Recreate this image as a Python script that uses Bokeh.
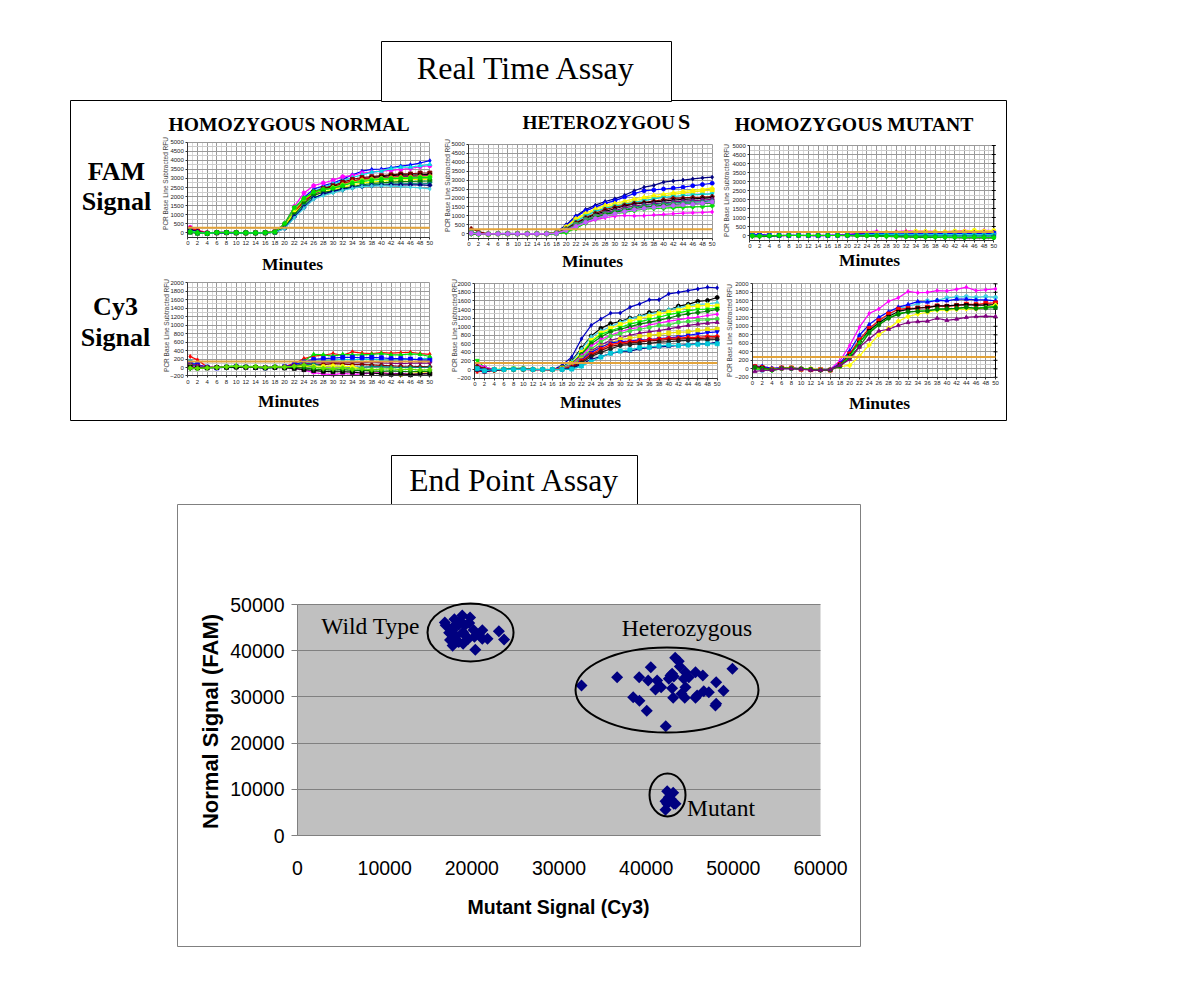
from bokeh.plotting import figure
from bokeh.embed import file_html
from bokeh.resources import INLINE
from bokeh.core.properties import value
from bokeh.models import Range1d, LinearAxis, FixedTicker, Grid

minutes = [0.5, 2, 4, 6, 8, 10, 12, 14, 16, 18, 20, 22, 24, 26, 28, 30, 32, 34, 36, 38, 40, 42, 44, 46, 48, 50]

fam_normal = [
    [150, 60, -20, 10, 20, 10, -10, 0, 20, 60, 420, 1250, 1950, 2400, 2600, 2750, 2950, 3200, 3400, 3500, 3520, 3600, 3680, 3750, 3850, 3980],
    [300, 150, 0, 20, 20, 5, 0, -10, 10, 70, 500, 1450, 2200, 2600, 2750, 2900, 3100, 3150, 3300, 3350, 3400, 3450, 3500, 3550, 3650, 3700],
    [100, 40, -30, 10, 0, 10, 0, 0, 10, 40, 350, 1100, 1800, 2300, 2500, 2700, 2850, 3050, 3200, 3350, 3400, 3550, 3620, 3620, 3700, 3780],
    [200, 80, -20, 0, 10, 0, -10, 0, 0, 50, 400, 1150, 1800, 2250, 2450, 2600, 2800, 2950, 3050, 3100, 3150, 3200, 3250, 3250, 3300, 3300],
    [80, 10, -40, 0, 10, 10, 0, -10, 0, 30, 300, 1050, 1700, 2150, 2400, 2550, 2700, 2850, 2950, 3050, 3100, 3150, 3200, 3180, 3200, 3220],
    [250, 140, -10, 10, 0, 0, 0, -10, 10, 60, 380, 1150, 1750, 2200, 2400, 2500, 2700, 2850, 2950, 3000, 3020, 3080, 3100, 3120, 3130, 3150],
    [40, -20, -30, 20, 20, 10, -10, 0, 10, 40, 350, 1050, 1650, 2100, 2350, 2500, 2650, 2800, 2900, 2980, 3020, 3050, 3080, 3100, 3120, 3150],
    [60, 0, -20, 10, 10, 0, -5, 0, 5, 40, 350, 1250, 1850, 2200, 2350, 2500, 2650, 2800, 2900, 2950, 3000, 3020, 3050, 3060, 3080, 3100],
    [120, 20, -30, 0, 5, 5, 0, 0, 5, 40, 380, 1100, 1600, 2050, 2250, 2400, 2500, 2650, 2750, 2800, 2850, 2900, 2920, 2930, 2950, 2960],
    [30, -30, -40, 10, 10, 0, 0, -10, 0, 30, 300, 1000, 1600, 2050, 2250, 2300, 2450, 2550, 2650, 2720, 2750, 2800, 2820, 2830, 2850, 2860],
    [50, -10, -20, 10, 0, 5, 0, 0, 5, 20, 260, 900, 1500, 1950, 2100, 2250, 2350, 2500, 2600, 2650, 2680, 2700, 2700, 2720, 2700, 2720],
    [180, 70, -10, 0, 10, 0, -5, -10, 0, 30, 250, 880, 1400, 1900, 2150, 2300, 2400, 2500, 2550, 2600, 2620, 2650, 2640, 2650, 2640, 2620],
    [90, 20, -30, 5, 5, 0, 0, 0, 0, 20, 230, 820, 1350, 1850, 2050, 2200, 2350, 2450, 2550, 2580, 2600, 2580, 2550, 2520, 2480, 2420],
    [70, 10, -30, 20, 20, 10, 0, 0, 10, 50, 520, 1400, 1900, 2250, 2400, 2450, 2600, 2750, 2820, 2900, 2950, 2980, 3000, 3020, 3040, 3050],
]
fam_normal_colors = ["#0000FF", "#FF00FF", "#00E0E0", "#800000", "#000000", "#FF0000", "#800080", "#80FF00", "#FFFF00", "#008000", "#008080", "#000080", "#40D0E0", "#00E000"]

fam_hetero = [
    [60, 20, -10, 10, 20, 10, 0, -5, 10, 90, 500, 1000, 1360, 1600, 1800, 1950, 2150, 2400, 2600, 2700, 2880, 2950, 3000, 3060, 3120, 3160],
    [30, -10, -20, 5, 10, 10, 0, 0, 10, 80, 450, 950, 1280, 1500, 1700, 1850, 2050, 2250, 2400, 2450, 2500, 2550, 2600, 2680, 2750, 2820],
    [20, 0, -10, 10, 10, 5, 0, -5, 5, 60, 400, 850, 1150, 1400, 1600, 1700, 1820, 1950, 2050, 2150, 2220, 2300, 2370, 2420, 2480, 2560],
    [50, 10, -20, 5, 5, 10, 0, 0, 5, 50, 360, 780, 1080, 1300, 1500, 1600, 1720, 1850, 1950, 2050, 2120, 2200, 2280, 2340, 2400, 2450],
    [70, 10, -10, 0, 10, 5, 5, 0, 0, 40, 300, 700, 1000, 1250, 1420, 1550, 1650, 1750, 1850, 1950, 2030, 2080, 2130, 2170, 2200, 2230],
    [280, 120, 0, 10, 5, 0, 0, -5, 5, 40, 280, 620, 900, 1150, 1350, 1480, 1600, 1700, 1750, 1820, 1900, 1980, 2000, 2030, 2050, 2080],
    [-20, -40, -30, 0, 5, 5, 0, 0, 0, 30, 240, 560, 850, 1080, 1250, 1400, 1550, 1650, 1720, 1780, 1820, 1880, 1920, 1950, 1980, 2020],
    [40, 0, -10, 5, 5, 0, -5, 0, 5, 30, 220, 500, 800, 1000, 1180, 1300, 1450, 1550, 1620, 1680, 1720, 1780, 1820, 1850, 1880, 1920],
    [10, -20, -20, 0, 10, 5, 0, 0, 0, 20, 200, 480, 750, 950, 1120, 1250, 1350, 1480, 1580, 1620, 1680, 1720, 1750, 1780, 1800, 1850],
    [100, 30, -10, 5, 0, 0, 0, 0, 5, 30, 220, 520, 780, 980, 1100, 1200, 1320, 1400, 1480, 1520, 1600, 1640, 1680, 1700, 1720, 1760],
    [0, -30, -30, 0, 5, 5, 0, -5, 0, 10, 120, 380, 680, 900, 1080, 1200, 1300, 1400, 1480, 1530, 1580, 1600, 1620, 1650, 1680, 1720],
    [-10, -30, -20, 0, 0, 0, 5, 0, 0, 0, 80, 300, 600, 820, 1000, 1120, 1200, 1300, 1380, 1420, 1430, 1460, 1480, 1500, 1520, 1560],
    [20, 0, -10, 5, 5, 0, 0, 0, 0, 30, 200, 420, 620, 780, 900, 980, 1020, 1000, 1010, 1050, 1080, 1120, 1150, 1170, 1190, 1220],
    [30, 0, -10, 0, 5, 5, -5, 0, 5, 20, 180, 400, 650, 850, 1000, 1120, 1250, 1350, 1420, 1480, 1520, 1580, 1620, 1650, 1700, 1780],
]
fam_hetero_colors = ["#000080", "#0000FF", "#FFFF00", "#F8F000", "#00D0D0", "#800000", "#000000", "#800080", "#008080", "#40A060", "#008000", "#00E000", "#FF00FF", "#C060FF"]

fam_mutant = [
    [80, 50, 10, -10, 10, 5, 0, -10, 10, 30, 60, 100, 200, 240, 180, 220, 260, 240, 250, 230, 220, 250, 280, 260, 290, 270],
    [40, 10, 0, 10, 0, 5, 0, 5, 0, 10, 30, 70, 110, 130, 160, 170, 200, 240, 230, 220, 210, 250, 240, 290, 250, 280],
    [60, 30, 0, -10, 0, 0, -5, -10, 0, 20, 50, 90, 130, 150, 140, 160, 170, 150, 160, 140, 130, 150, 170, 160, 170, 170],
    [70, 40, 10, 0, 5, 10, 0, -5, 0, 10, 20, 50, 90, 100, 110, 90, 90, 100, 90, 110, 100, 120, 110, 110, 100, 120],
    [20, -20, -30, 0, 0, 5, 0, 0, 5, 10, 10, 20, 40, 60, 70, 60, 50, 40, 50, 40, 50, 30, 40, 50, 40, 60],
    [10, -10, -20, 0, 0, 0, 0, 0, 0, 0, 0, 0, 0, 10, -10, -20, -10, -30, -20, -30, -40, -30, -40, -30, -40, -40],
    [-60, -70, -30, -10, 0, 0, 0, 5, 0, 0, -10, -20, -30, -40, -50, -60, -80, -90, -100, -110, -110, -120, -130, -120, -130, -130],
    [-30, -40, -20, 0, 5, 0, 5, 0, 0, 0, 0, -10, -20, -30, -40, -60, -70, -80, -90, -90, -100, -100, -110, -100, -110, -120],
]
fam_mutant_colors = ["#FF00FF", "#FFFF00", "#800080", "#0000FF", "#00D0D0", "#008080", "#000000", "#00E000"]

cy3_normal = [
    [260, 180, 10, 0, 10, 20, 10, 0, -10, 10, 30, 90, 210, 270, 290, 330, 290, 370, 340, 330, 350, 340, 350, 360, 330, 310],
    [140, 60, 0, 10, -5, 0, 10, 10, -10, 0, 10, 50, 90, 150, 160, 170, 190, 180, 200, 190, 180, 170, 180, 190, 200, 220],
    [20, -20, -10, 0, 30, 40, 20, 30, 0, 30, 20, 60, 150, 310, 300, 270, 310, 300, 300, 310, 330, 300, 300, 320, 310, 260],
    [100, 70, 10, -10, 10, 20, 10, 0, -5, 10, 20, 70, 130, 190, 210, 220, 240, 240, 230, 240, 230, 210, 210, 200, 180, 170],
    [80, 50, 10, 0, 10, 10, 0, 10, 0, 10, 20, 40, 80, 110, 110, 120, 110, 120, 110, 130, 110, 100, 90, 100, 110, 100],
    [50, 20, 0, 10, 0, 10, 5, 0, 0, 0, 15, 40, 60, 70, 70, 90, 80, 70, 70, 60, 50, 40, 30, 30, 20, 20],
    [60, 20, 0, -5, 10, 10, 0, 0, -15, 5, 10, 20, 50, 90, 20, 30, 30, 10, 10, 20, 20, 10, 0, 10, 0, 10],
    [30, -5, 0, 5, 0, 10, 10, 10, 0, 10, 10, 10, 20, 30, 30, 40, 30, 20, -40, -100, -120, -150, -170, -140, -120, -130],
    [30, 10, 0, 0, 5, 5, 0, 5, 0, 5, 0, -20, -60, -120, -150, -170, -140, -160, -150, -130, -120, -150, -140, -160, -150, -130],
    [10, -10, -10, 0, 5, 10, 5, 0, -10, 0, -10, -20, -50, -70, -90, -100, -100, -110, -130, -130, -150, -160, -150, -170, -150, -150],
    [-30, -30, 0, 0, 10, 20, 20, 10, -5, 10, 0, 0, -10, -40, -50, -60, -50, -70, -60, -80, -90, -80, -90, -100, -90, -90],
    [-10, -20, -10, 0, 20, 30, 10, 20, 0, 20, 10, 30, 60, 10, -20, -30, -10, -40, -30, -50, -40, -30, -50, -40, -60, -50],
]
cy3_normal_colors = ["#FF0000", "#00D0D0", "#00E000", "#0000FF", "#800080", "#800000", "#008080", "#FFFF00", "#FF00FF", "#000000", "#008000", "#60E000"]

cy3_hetero = [
    [60, 20, -10, 5, 10, 30, 0, 0, -10, 100, 290, 715, 1030, 1180, 1315, 1320, 1455, 1530, 1625, 1630, 1765, 1800, 1840, 1880, 1920, 1905],
    [30, -20, 0, 0, 5, 10, 0, 0, 0, 50, 200, 500, 780, 960, 1070, 1120, 1200, 1240, 1330, 1350, 1380, 1480, 1520, 1590, 1610, 1680],
    [100, 0, -10, 5, 0, 10, -5, 0, -5, 40, 180, 470, 760, 900, 1000, 1100, 1180, 1240, 1290, 1340, 1400, 1440, 1490, 1520, 1530, 1560],
    [40, -10, 0, 0, 10, 10, 0, 0, 0, 30, 140, 400, 680, 850, 960, 1050, 1120, 1190, 1240, 1300, 1340, 1380, 1460, 1480, 1500, 1480],
    [210, 50, 0, 10, 30, 20, 0, -10, 0, 20, 120, 360, 640, 820, 900, 980, 1060, 1110, 1170, 1220, 1280, 1320, 1370, 1400, 1410, 1430],
    [80, 0, -20, 5, 10, 30, 5, 5, -5, 30, 130, 350, 600, 760, 880, 940, 1000, 1060, 1100, 1150, 1200, 1260, 1300, 1330, 1360, 1400],
    [120, 60, 0, 0, 0, 0, 0, -10, 0, 20, 120, 320, 540, 700, 800, 880, 950, 980, 1040, 1080, 1130, 1160, 1200, 1220, 1260, 1290],
    [60, -10, -20, 0, 10, 10, 5, 0, 0, 20, 100, 280, 480, 640, 780, 840, 900, 940, 980, 1030, 1040, 1100, 1120, 1150, 1160, 1180],
    [-20, -60, -10, 0, 0, 5, -5, 0, 0, 20, 80, 240, 430, 570, 680, 740, 800, 850, 880, 910, 950, 990, 1030, 1060, 1080, 1100],
    [20, -20, 0, 5, 5, 10, 0, 0, 0, 15, 80, 230, 400, 530, 620, 700, 730, 770, 800, 820, 850, 870, 880, 910, 930, 940],
    [30, 0, 0, 0, 5, 5, 0, 0, 0, 10, 70, 220, 400, 520, 620, 650, 660, 690, 700, 720, 740, 760, 800, 830, 860, 880],
    [-40, -50, -20, 0, 0, 10, -5, 0, 0, 10, 60, 200, 360, 480, 580, 620, 650, 670, 700, 710, 730, 730, 750, 750, 770, 770],
    [90, 20, 0, 0, 0, 5, 0, 0, -10, 0, 50, 180, 330, 440, 540, 580, 620, 640, 670, 680, 700, 710, 720, 720, 730, 740],
    [0, -40, -10, 0, 0, 5, 0, 0, 0, 0, 30, 150, 300, 400, 480, 560, 580, 600, 610, 640, 650, 670, 680, 690, 690, 700],
    [-10, -50, -15, 0, 5, 0, -5, 0, 0, 0, 20, 120, 240, 300, 370, 420, 430, 480, 510, 530, 540, 560, 580, 600, 600, 640],
    [20, -30, 0, 0, 5, 10, 0, 0, 0, 0, 10, 80, 180, 290, 380, 430, 460, 510, 520, 550, 570, 560, 570, 590, 600, 600],
]
cy3_hetero_colors = ["#0000C0", "#000000", "#40D0E0", "#FFFF00", "#00F000", "#008000", "#FF00FF", "#40E040", "#800080", "#E8E000", "#0000FF", "#FF0000", "#800000", "#202020", "#000080", "#00C8D8"]

cy3_mutant = [
    [50, 40, 0, 20, 30, 0, -20, -40, -10, 190, 550, 980, 1300, 1410, 1590, 1670, 1820, 1790, 1800, 1840, 1830, 1870, 1920, 1840, 1860, 1880],
    [20, -40, -20, 10, 0, 0, -10, -30, -20, 110, 350, 700, 920, 1100, 1260, 1420, 1470, 1530, 1600, 1610, 1670, 1690, 1700, 1680, 1700, 1680],
    [60, 60, 10, 30, 30, 0, -20, -20, -20, 130, 420, 790, 1040, 1210, 1340, 1450, 1510, 1580, 1570, 1610, 1600, 1640, 1640, 1620, 1620, 1600],
    [50, 30, -10, 20, 20, -10, -20, -20, -30, 100, 350, 680, 950, 1130, 1290, 1400, 1420, 1430, 1450, 1480, 1470, 1490, 1520, 1510, 1540, 1550],
    [40, 30, -20, 10, 10, 0, -20, -30, -20, 90, 320, 620, 900, 1080, 1230, 1350, 1400, 1430, 1440, 1480, 1480, 1500, 1510, 1500, 1500, 1510],
    [20, 0, -20, 10, 20, 0, 0, -20, -20, 50, 80, 300, 560, 800, 950, 1120, 1230, 1290, 1330, 1380, 1380, 1400, 1410, 1410, 1440, 1500],
    [-10, -10, -50, 10, 10, 0, -20, -20, -20, 80, 300, 620, 860, 1050, 1190, 1310, 1330, 1360, 1370, 1390, 1410, 1420, 1440, 1430, 1450, 1470],
    [30, 10, -20, 10, 10, 0, -10, -30, -30, 60, 260, 530, 840, 1030, 1190, 1280, 1340, 1350, 1360, 1410, 1410, 1420, 1450, 1420, 1430, 1440],
    [-60, -40, -30, 0, 0, -10, -30, -30, -20, 80, 220, 510, 700, 890, 930, 1020, 1090, 1110, 1120, 1190, 1140, 1170, 1210, 1230, 1240, 1230],
]
cy3_mutant_colors = ["#FF00FF", "#40D0E0", "#0000FF", "#FF0000", "#000000", "#FFFF00", "#00E000", "#008000", "#800080"]

thresholds = [275, 250, 200, 140, 150, 280]

wild_x = [16900, 18900, 19800, 18000, 17400, 18500, 19200, 20200, 21200, 21800, 21200, 23100, 23700, 20400, 17800, 18500, 19600, 20300, 17000, 17800, 18200, 19000, 19700, 18700, 17500, 20800, 18300, 19300, 19000, 18000]
wild_y = [46100, 47600, 47200, 46800, 43900, 45600, 45500, 44500, 44400, 42600, 42600, 44200, 42400, 40200, 41100, 41900, 42600, 43000, 45500, 44500, 43200, 44000, 46000, 46400, 42300, 43500, 42000, 43200, 41500, 45400]
het_x = [32580, 36670, 39200, 40230, 40530, 41260, 41720, 41070, 38510, 39230, 40070, 42250, 43330, 43740, 43860, 42790, 42980, 43170, 42980, 43100, 44510, 44320, 44890, 44510, 44050, 44430, 45660, 46500, 45660, 45850, 46610, 47190, 48030, 48870, 47950, 48030, 49900, 42600]
het_y = [32470, 34270, 34270, 33550, 36430, 33550, 32100, 31600, 29940, 29150, 26990, 23660, 38460, 37730, 36580, 34630, 35000, 34420, 31890, 29800, 35350, 33910, 34270, 32100, 30670, 29800, 35350, 34630, 29800, 30300, 31240, 31020, 33180, 31310, 28140, 28500, 36080, 33910]
mut_x = [42410, 43100, 42790, 42220, 43170, 42410, 43360, 42220, 42600]
mut_y = [9600, 9230, 7930, 7430, 6850, 6850, 6850, 5550, 8300]

fam_ticks = [0, 500, 1000, 1500, 2000, 2500, 3000, 3500, 4000, 4500, 5000]
cy3_ticks = [-200, 0, 200, 400, 600, 800, 1000, 1200, 1400, 1600, 1800, 2000]
minute_ticks = list(range(0, 51, 2))
minute_minor = list(range(1, 50, 2))
scatter_x_ticks = [0, 10000, 20000, 30000, 40000, 50000, 60000]
scatter_y_ticks = [0, 10000, 20000, 30000, 40000, 50000]

W, H = 1182, 970
LEFT, RIGHT, TOP, BOTTOM = 0, W, 0, H
p = figure(width=W, height=H, x_range=Range1d(LEFT, RIGHT), y_range=Range1d(BOTTOM, TOP),
           x_axis_type=None, y_axis_type=None, output_backend="svg", toolbar_location=None,
           min_border=0, outline_line_color=None, background_fill_color="white", border_fill_color="white")
p.xgrid.visible = False
p.ygrid.visible = False

SERIF = value("Liberation Serif")
SANS = value("Liberation Sans")


def put(x, y, txt, size, bold=False, font=SERIF, angle=0.0, color="black", align="center"):
    p.text(x=[x], y=[y], text=[txt], text_font=font, text_font_size=f"{size}px",
           text_font_style="bold" if bold else "normal", text_align=align, text_baseline="middle",
           angle=angle, text_color=color)


def box(x0, x1, y0, y1, color="black", fill=None):
    p.quad(left=[x0], right=[x1], top=[y0], bottom=[y1], line_color=color, line_width=1,
           fill_color=fill, fill_alpha=1 if fill else 0)


def extra(name, horizontal, v_a, px_a, v_b, px_b):
    slope = (v_b - v_a) / (px_b - px_a)
    lo, hi = (LEFT, RIGHT) if horizontal else (BOTTOM, TOP)
    r = Range1d(v_a + (lo - px_a) * slope, v_a + (hi - px_a) * slope)
    (p.extra_x_ranges if horizontal else p.extra_y_ranges)[name] = r


box(70, 1006, 100, 420)
box(381, 671, 41, 101, fill="white")
box(391, 637, 455, 504, fill="white")
box(177, 860, 504, 946, color="#808080")

panels = [
    ("p1", fam_normal, fam_normal_colors, fam_ticks, 250, 5000, -250, 187.3, 429.3, 232.3, 141.7, 5000, 165, 183),
    ("p2", fam_hetero, fam_hetero_colors, fam_ticks, 250, 5000, -250, 468.3, 711.7, 233.3, 143.7, 5000, 447, 185),
    ("p3", fam_mutant, fam_mutant_colors, fam_ticks, 250, 5000, -250, 749.3, 993.3, 235.0, 145.0, 5000, 726, 190),
    ("p4", cy3_normal, cy3_normal_colors, cy3_ticks, 100, 2000, -200, 187.3, 429.3, 367.0, 282.3, 2000, 166, 325),
    ("p5", cy3_hetero, cy3_hetero_colors, cy3_ticks, 100, 2000, -200, 474.3, 716.7, 369.0, 283.3, 2000, 454, 325),
    ("p6", cy3_mutant, cy3_mutant_colors, cy3_ticks, 100, 2000, -200, 752.0, 995.0, 368.3, 283.3, 2000, 729, 330),
]
markers = ["diamond", "circle", "triangle", "square", "inverted_triangle", "plus"]

for i, (nm, curves, colors, yticks, yminor, ymax, ymin, x0px, x1px, y0px, ytop, yref, lab_x, lab_y) in enumerate(panels):
    xn, yn = nm + "x", nm + "y"
    extra(xn, True, 0, x0px, 50, x1px)
    extra(yn, False, 0, y0px, yref, ytop)
    vt = FixedTicker(ticks=minute_ticks, minor_ticks=minute_minor)
    minor = [float(v) for v in range(ymin, ymax + 1, yminor) if v not in yticks]
    ht = FixedTicker(ticks=yticks, minor_ticks=minor)
    p.add_layout(Grid(dimension=0, ticker=vt, x_range_name=xn, y_range_name=yn, bounds=(0, 50),
                      cross_bounds=(ymin, ymax), grid_line_color="#9A9A9A", grid_line_width=1,
                      minor_grid_line_color="#D8D8D8", minor_grid_line_width=1))
    p.add_layout(Grid(dimension=1, ticker=ht, x_range_name=xn, y_range_name=yn, bounds=(ymin, ymax),
                      cross_bounds=(0, 50), grid_line_color="#9A9A9A", grid_line_width=1,
                      minor_grid_line_color="#CCCCCC", minor_grid_line_width=1))
    xax = LinearAxis(x_range_name=xn, y_range_name=yn, fixed_location=ymin, bounds=(0, 50),
                     ticker=FixedTicker(ticks=minute_ticks))
    yax = LinearAxis(x_range_name=xn, y_range_name=yn, fixed_location=0, bounds=(ymin, ymax),
                     ticker=FixedTicker(ticks=yticks))
    for ax in (xax, yax):
        ax.major_label_text_font = "Liberation Sans"
        ax.major_label_text_font_size = "6px"
        ax.major_label_text_color = "#222222"
        ax.major_label_standoff = 2
        ax.major_tick_in = 0
        ax.major_tick_out = 2
        ax.minor_tick_in = 0
        ax.minor_tick_out = 0
        ax.axis_line_color = "#333333"
        ax.major_tick_line_color = "#333333"
    p.add_layout(xax, "below")
    p.add_layout(yax, "left")
    if i in (2, 5):
        p.line([50, 50], [ymin, ymax], x_range_name=xn, y_range_name=yn, line_color="black", line_width=1)
        p.scatter([50] * len(yticks), yticks, x_range_name=xn, y_range_name=yn, marker="dash", size=4,
                  line_color="black", line_width=1)
    for k, (c, col) in enumerate(zip(curves, colors)):
        p.line(minutes, c, x_range_name=xn, y_range_name=yn, line_color=col, line_width=1.2)
        p.scatter(minutes, c, x_range_name=xn, y_range_name=yn, marker=markers[k % len(markers)], size=4,
                  line_color=col, fill_color=col, line_width=0.8)
    p.line([0, 50], [thresholds[i], thresholds[i]], x_range_name=xn, y_range_name=yn,
           line_color="#E2A33B", line_width=2)
    put(lab_x, lab_y, "PCR Base Line Subtracted RFU", 6.5, font=SANS, angle=1.5708, color="#444444")

# Titles and row / column labels
put(526, 67, "Real Time Assay", 32)
put(514, 480, "End Point Assay", 31.6)
put(288.5, 124, "HOMOZYGOUS NORMAL", 19.6, bold=True)
put(522, 122, "HETEROZYGOU", 19.2, bold=True, align="left")
put(677.5, 121, "S", 22, bold=True, align="left")
put(853.5, 123.5, "HOMOZYGOUS MUTANT", 19.7, bold=True)
put(116, 171, "FAM", 26, bold=True)
put(116, 201, "Signal", 26, bold=True)
put(115, 306, "Cy3", 26, bold=True)
put(115, 337, "Signal", 26, bold=True)
for mx, my in [(292, 263), (592, 260), (869, 259), (288, 400), (590, 401), (879, 402)]:
    put(mx, my, "Minutes", 17.5, bold=True)

# End point scatter
extra("sx", True, 0, 297, 60000, 820)
extra("sy", False, 0, 835, 50000, 604)
p.quad(left=[0], right=[60000], bottom=[0], top=[50000], x_range_name="sx", y_range_name="sy",
       fill_color="#C0C0C0", line_color=None, level="underlay")
p.add_layout(Grid(dimension=1, ticker=FixedTicker(ticks=scatter_y_ticks), x_range_name="sx", y_range_name="sy",
                  bounds=(0, 50000), cross_bounds=(0, 60000), grid_line_color="#808080", grid_line_width=1))
sxax = LinearAxis(x_range_name="sx", y_range_name="sy", fixed_location=0, bounds=(0, 60000),
                  ticker=FixedTicker(ticks=scatter_x_ticks))
syax = LinearAxis(x_range_name="sx", y_range_name="sy", fixed_location=0, bounds=(0, 50000),
                  ticker=FixedTicker(ticks=scatter_y_ticks))
for ax in (sxax, syax):
    ax.major_label_text_font = "Liberation Sans"
    ax.major_label_text_font_size = "19.5px"
    ax.major_label_text_color = "black"
    ax.major_tick_in = 0
    ax.major_tick_out = 6
    ax.minor_tick_out = 0
    ax.minor_tick_in = 0
    ax.axis_line_color = "#808080"
    ax.major_tick_line_color = "#808080"
sxax.major_label_standoff = 25
sxax.major_tick_out = 0
syax.major_label_standoff = 7
p.add_layout(sxax, "below")
p.add_layout(syax, "left")
for sx_, sy_ in ((wild_x, wild_y), (het_x, het_y), (mut_x, mut_y)):
    p.scatter(sx_, sy_, x_range_name="sx", y_range_name="sy", marker="square", angle=0.7854, size=8.5,
              fill_color="#000080", line_color="#000080", line_width=0)
p.ellipse(x=[19850, 42390, 42450], y=[43940, 31490, 8770], width=[9870, 20990, 4130], height=[12550, 18400, 9310],
          x_range_name="sx", y_range_name="sy", fill_alpha=0, line_color="black", line_width=2)
put(370, 625, "Wild Type", 23.5)
put(686.5, 627, "Heterozygous", 23.5)
put(720.5, 807, "Mutant", 23.5)
put(558, 906, "Mutant Signal (Cy3)", 19.5, bold=True, font=SANS)
put(210, 721, "Normal Signal (FAM)", 22, bold=True, font=SANS, angle=1.5708)

open("out.html", "w").write(file_html(p, INLINE))
